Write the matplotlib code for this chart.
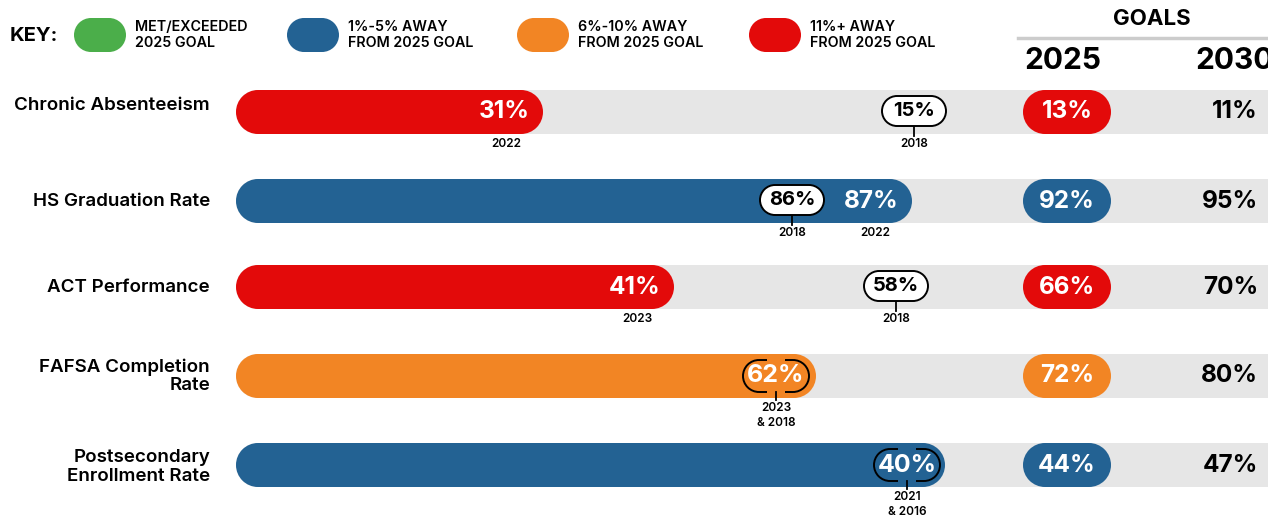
import matplotlib.pyplot as plt
from matplotlib.patches import PathPatch, Arc
from matplotlib.path import Path
import numpy as np

# chart data
metrics = ['Chronic Absenteeism', 'HS Graduation Rate', 'ACT Performance',
           'FAFSA Completion\nRate', 'Postsecondary\nEnrollment Rate']
current = [31, 87, 41, 62, 40]
current_year = ['2022', '2022', '2023', '2023\n& 2018', '2021\n& 2016']
baseline = [15, 86, 58, 62, 40]
baseline_year = ['2018', '2018', '2018', '', '']
goal_2025 = [13, 92, 66, 72, 44]
goal_2030 = [11, 95, 70, 80, 47]
status = ['far', 'near', 'far', 'mid', 'near']
# infographic bar lengths / baseline marker spots along the track (not value-scaled)
bar_end = [543, 912, 674, 816, 945]
baseline_at = [914, 792, 896, 776, 907]

key_labels = ['MET/EXCEEDED\n2025 GOAL', '1%-5% AWAY\nFROM 2025 GOAL',
              '6%-10% AWAY\nFROM 2025 GOAL', '11%+ AWAY\nFROM 2025 GOAL']
key_status = ['met', 'near', 'mid', 'far']

colors = {'met': '#4BAE4A', 'near': '#236293', 'mid': '#F28524', 'far': '#E30A0A'}
TRACK = '#E6E6E6'

plt.rcParams['font.family'] = ['Inter', 'DejaVu Sans']


def pill(ax, x0, x1, yc, h, fc, ec='none', lw=0, z=1):
    # capsule with true semicircle ends
    r = h / 2
    left = Path.arc(90, 270)
    right = Path.arc(-90, 90)
    lv = left.vertices * r + [x0 + r, yc]
    rv = right.vertices * r + [x1 - r, yc]
    verts = np.concatenate([lv, rv, [lv[0]]])
    codes = np.concatenate([left.codes, right.codes, [Path.CLOSEPOLY]])
    codes[len(left.codes)] = Path.LINETO
    ax.add_patch(PathPatch(Path(verts, codes), fc=fc, ec=ec, lw=lw, zorder=z))


def brackets(ax, xc, yc, w, h, z=5):
    r = h / 2
    for side in (-1, 1):
        cx = xc + side * (w / 2 - r)
        t1, t2 = (90, 270) if side < 0 else (-90, 90)
        ax.add_patch(Arc((cx, yc), h, h, theta1=t1, theta2=t2, color='black', lw=1.4, zorder=z))
        for yy in (yc - r, yc + r):
            ax.plot([cx, cx - side * 8], [yy, yy], color='black', lw=1.4, zorder=z,
                    solid_capstyle='butt')


fig = plt.figure(figsize=(12.68, 5.19), dpi=100)
ax = fig.add_axes([0, 0, 1, 1])
ax.set_xlim(0, 1268)
ax.set_ylim(519, 0)
ax.axis('off')

# key
ax.text(10, 36, 'KEY:', fontsize=14.5, fontweight='bold', va='center', ha='left')
key_x = [74, 287, 517, 749]
for kx, lab, st in zip(key_x, key_labels, key_status):
    pill(ax, kx, kx + 52, 35, 34, colors[st])
    ax.text(kx + 61, 35, lab, fontsize=10.3, fontweight='semibold', va='center', ha='left',
            linespacing=1.15)

# goals header
ax.text(1152, 19, 'GOALS', fontsize=16, fontweight='bold', ha='center', va='center')
ax.plot([1018, 1268], [38, 38], color='#CCCCCC', lw=2.5)
ax.text(1063, 61, '2025', fontsize=21.5, fontweight='bold', ha='center', va='center')
ax.text(1195, 61, '2030', fontsize=21.5, fontweight='bold', ha='left', va='center')

row_y = [112, 201, 287, 376, 465]
label_dy = [-7, 1, 1, 0, 2]
H = 44
for i, yc in enumerate(row_y):
    col = colors[status[i]]
    ax.text(210, yc + label_dy[i], metrics[i], fontsize=13.5,
            fontweight='semibold', ha='right', va='center', linespacing=1.1)
    # track + current bar
    pill(ax, 236, 1290, yc, H, TRACK, z=1)
    pill(ax, 236, bar_end[i], yc, H, col, z=2)
    same = current[i] == baseline[i]
    if same:
        xc = baseline_at[i]
        ax.text(xc, yc, f'{current[i]}%', fontsize=18, fontweight='bold', color='white',
                ha='center', va='center', zorder=6)
        brackets(ax, xc, yc, 66, 32)
        ax.plot([xc, xc], [yc + 16, yc + 24], color='black', lw=1.3)
        ax.text(xc, yc + 26, current_year[i], fontsize=8.5, fontweight='semibold',
                ha='center', va='top', linespacing=1.3)
    else:
        ax.text(bar_end[i] - 13, yc, f'{current[i]}%', fontsize=17.5, fontweight='bold',
                color='white', ha='right', va='center', zorder=6)
        ax.text(bar_end[i] - 37, yc + 26, current_year[i], fontsize=8.5, fontweight='semibold',
                ha='center', va='top')
        bx = baseline_at[i]
        pill(ax, bx - 32, bx + 32, yc - 1, 30, 'white', ec='black', lw=1.4, z=4)
        ax.text(bx, yc - 1, f'{baseline[i]}%', fontsize=14.5, fontweight='bold',
                ha='center', va='center', zorder=6)
        ax.plot([bx, bx], [yc + 14, yc + 24], color='black', lw=1.3, zorder=3)
        ax.text(bx, yc + 26, baseline_year[i], fontsize=8.5, fontweight='semibold',
                ha='center', va='top')
    # goals
    pill(ax, 1023, 1111, yc, H, col, z=3)
    ax.text(1067, yc, f'{goal_2025[i]}%', fontsize=17.5, fontweight='bold', color='white',
            ha='center', va='center', zorder=6)
    ax.text(1258, yc, f'{goal_2030[i]}%', fontsize=17.5, fontweight='bold', color='black',
            ha='right', va='center', zorder=6)

fig.savefig('out.png', dpi=100)
